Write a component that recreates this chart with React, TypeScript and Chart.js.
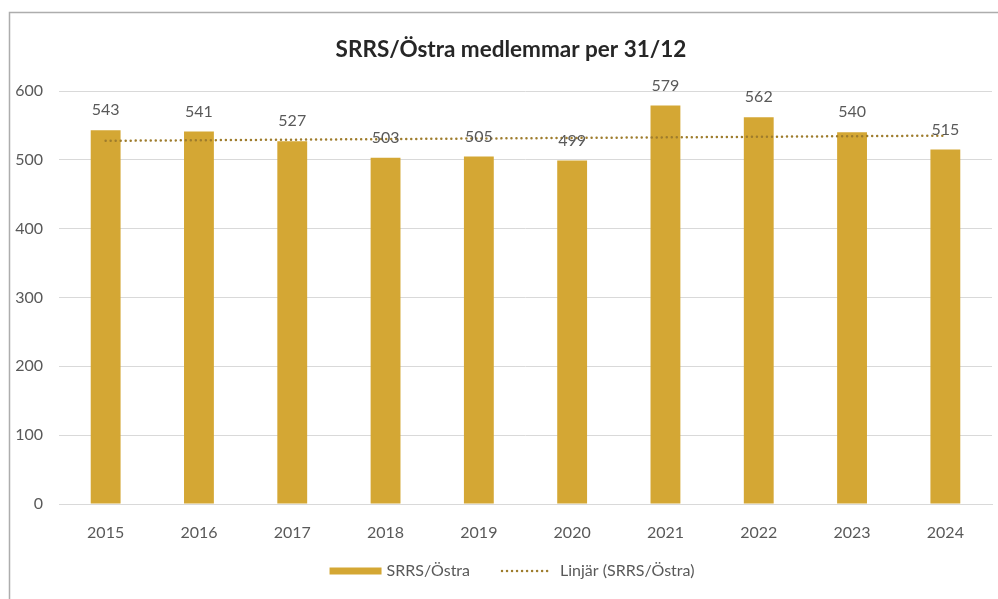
import React, { useEffect, useRef } from "react";
import { Chart, registerables } from "chart.js";

Chart.register(...registerables);

const years = ["2015", "2016", "2017", "2018", "2019", "2020", "2021", "2022", "2023", "2024"];
const members = [543, 541, 527, 503, 505, 499, 579, 562, 540, 515];
const yTickValues = [0, 100, 200, 300, 400, 500, 600];
const chartTitle = "SRRS/Östra medlemmar per 31/12";
const seriesName = "SRRS/Östra";
const trendName = "Linjär (SRRS/Östra)";

const FONT = "Lato, 'Open Sans', sans-serif";
const BAR_COLOR = "#D4A734";
const TREND_COLOR = "#9E7C2C";
const TEXT_COLOR = "#595959";
const GRID_COLOR = "#D9D9D9";

// Ordinary least-squares trend of the series (as a spreadsheet's linear trendline)
function linearTrend(values: number[]): number[] {
  const n = values.length;
  const mx = (n - 1) / 2;
  const my = values.reduce((a, b) => a + b, 0) / n;
  let sxy = 0;
  let sxx = 0;
  values.forEach((v, i) => {
    sxy += (i - mx) * (v - my);
    sxx += (i - mx) * (i - mx);
  });
  const slope = sxy / sxx;
  return values.map((_, i) => my + slope * (i - mx));
}

const decorPlugin = {
  id: "decor",
  beforeDraw(chart: any) {
    const ctx = chart.ctx;
    ctx.save();
    ctx.fillStyle = "#ffffff";
    ctx.fillRect(0, 0, chart.width, chart.height);
    ctx.strokeStyle = "#ADADAD";
    ctx.lineWidth = 1.5;
    ctx.beginPath();
    ctx.moveTo(9.5, chart.height + 5);
    ctx.lineTo(9.5, 12.5);
    ctx.lineTo(chart.width + 5, 12.5);
    ctx.stroke();
    ctx.restore();
  },
  afterDatasetsDraw(chart: any) {
    const ctx = chart.ctx;
    const meta = chart.getDatasetMeta(1);
    ctx.save();
    ctx.font = `16px ${FONT}`;
    ctx.fillStyle = TEXT_COLOR;
    ctx.textAlign = "center";
    ctx.textBaseline = "middle";
    meta.data.forEach((bar: any, i: number) => {
      ctx.fillText(String(members[i]), bar.x, bar.y - 20);
    });
    ctx.restore();
  },
  afterDraw(chart: any) {
    const ctx = chart.ctx;
    ctx.save();
    // Title
    ctx.font = `bold 22.5px ${FONT}`;
    ctx.fillStyle = "#262626";
    ctx.textAlign = "center";
    ctx.textBaseline = "middle";
    ctx.fillText(chartTitle, 511, 50);

    // Legend
    ctx.font = `16px ${FONT}`;
    const w1 = ctx.measureText(seriesName).width;
    const w2 = ctx.measureText(trendName).width;
    const boxW = 52;
    const lineW = 50;
    const total = boxW + 5 + w1 + 31 + lineW + 9 + w2;
    let x = 512 - total / 2;
    const y = 571;
    ctx.fillStyle = BAR_COLOR;
    ctx.fillRect(x, y - 3.5, boxW, 7);
    x += boxW + 5;
    ctx.fillStyle = TEXT_COLOR;
    ctx.textAlign = "left";
    ctx.fillText(seriesName, x, y);
    x += w1 + 31;
    ctx.strokeStyle = TREND_COLOR;
    ctx.lineWidth = 2.5;
    ctx.lineCap = "round";
    ctx.setLineDash([0.01, 5]);
    ctx.beginPath();
    ctx.moveTo(x + 1, y);
    ctx.lineTo(x + lineW, y);
    ctx.stroke();
    ctx.setLineDash([]);
    x += lineW + 9;
    ctx.fillText(trendName, x, y);
    ctx.restore();
  },
};

export default function App() {
  const canvasRef = useRef<HTMLCanvasElement | null>(null);

  useEffect(() => {
    if (!canvasRef.current) return;
    const trend = linearTrend(members);
    const chart = new Chart(canvasRef.current, {
      type: "bar",
      data: {
        labels: years,
        datasets: [
          {
            type: "line",
            label: trendName,
            data: trend,
            borderColor: TREND_COLOR,
            borderWidth: 2.5,
            borderDash: [0.01, 5],
            borderCapStyle: "round",
            pointRadius: 0,
            fill: false,
            order: 0,
          } as any,
          {
            type: "bar",
            label: seriesName,
            data: members,
            backgroundColor: BAR_COLOR,
            borderWidth: 0,
            barPercentage: 0.32,
            categoryPercentage: 1,
            order: 1,
          },
        ],
      },
      options: {
        responsive: false,
        animation: false,
        layout: { padding: { left: 0, right: 6, top: 91, bottom: 0 } },
        plugins: {
          legend: { display: false },
          title: { display: false },
          tooltip: { enabled: false },
        },
        scales: {
          x: {
            grid: { display: false },
            border: { display: true, color: GRID_COLOR, width: 1 },
            ticks: {
              color: TEXT_COLOR,
              font: { family: FONT, size: 16 },
              padding: 11,
              maxRotation: 0,
            },
            afterFit(scale: any) {
              scale.height = 95;
            },
          },
          y: {
            min: 0,
            max: 600,
            afterBuildTicks(scale: any) {
              scale.ticks = yTickValues.map((v) => ({ value: v }));
            },
            grid: { color: GRID_COLOR, lineWidth: 1, drawTicks: false },
            border: { display: false },
            ticks: {
              color: TEXT_COLOR,
              font: { family: FONT, size: 16 },
              padding: 16,
            },
            afterFit(scale: any) {
              scale.width = 59;
            },
          },
        },
      },
      plugins: [decorPlugin],
    });
    return () => chart.destroy();
  }, []);

  return (
    <div style={{ position: "fixed", left: 0, top: 0, width: 998, height: 599, overflow: "hidden", background: "#fff" }}>
      <canvas ref={canvasRef} width={998} height={599} style={{ display: "block" }} />
    </div>
  );
}
